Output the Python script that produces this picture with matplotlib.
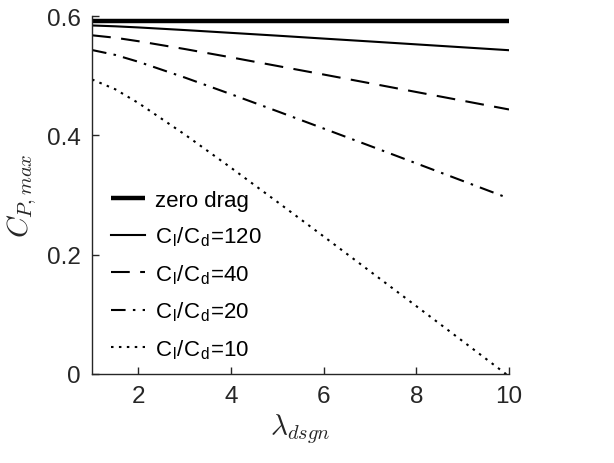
import matplotlib
matplotlib.use("Agg")
import matplotlib.pyplot as plt

# Design tip-speed ratio
tsr = [1, 1.5, 2, 3, 4, 5, 6, 7, 8, 9, 10]

# Maximum power coefficient for each lift-to-drag ratio
cp_zero_drag = [0.5926] * 11
cp_ld120 = [0.5844, 0.5830, 0.5811, 0.5767, 0.5720, 0.5673, 0.5624, 0.5576, 0.5527, 0.5478, 0.5429]
cp_ld40 = [0.5679, 0.5638, 0.5580, 0.5449, 0.5309, 0.5165, 0.5021, 0.4875, 0.4728, 0.4582, 0.4435]
cp_ld20 = [0.5432, 0.5350, 0.5235, 0.4971, 0.4691, 0.4405, 0.4115, 0.3824, 0.3531, 0.3237, 0.2943]
cp_ld10 = [0.4938, 0.4774, 0.4543, 0.4016, 0.3457, 0.2884, 0.2305, 0.1721, 0.1136, 0.0549, -0.0040]

labels = ["zero drag",
          r"C$_\mathregular{l}$/C$_\mathregular{d}$=120",
          r"C$_\mathregular{l}$/C$_\mathregular{d}$=40",
          r"C$_\mathregular{l}$/C$_\mathregular{d}$=20",
          r"C$_\mathregular{l}$/C$_\mathregular{d}$=10"]

xticks = [2, 4, 6, 8, 10]
yticks = [0, 0.2, 0.4, 0.6]

plt.rcParams["font.family"] = ["Liberation Sans", "DejaVu Sans"]
plt.rcParams["mathtext.fontset"] = "cm"

txt = "#262626"
fig = plt.figure(figsize=(6.14, 4.64), dpi=100)
ax = fig.add_axes([0.150, 0.192, 0.679, 0.771])

ax.plot(tsr, cp_zero_drag, color="black", lw=3.2, solid_capstyle="butt", label=labels[0])
ax.plot(tsr, cp_ld120, color="black", lw=1.5, label=labels[1])
ax.plot(tsr, cp_ld40, color="black", lw=1.5, dashes=(9, 5), label=labels[2])
ax.plot(tsr, cp_ld20, color="black", lw=1.5, dashes=(7, 3.5, 1.2, 3.5), label=labels[3])
ax.plot(tsr, cp_ld10, color="black", lw=1.5, dashes=(1.2, 2.6), label=labels[4])

ax.set_xlim(1, 10)
ax.set_ylim(0, 0.6)
ax.set_xticks(xticks)
ax.set_xticklabels([str(t) for t in xticks])
ax.set_yticks(yticks)
ax.set_yticklabels(["0", "0.2", "0.4", "0.6"])

for side in ("top", "right"):
    ax.spines[side].set_visible(False)
for side in ("left", "bottom"):
    ax.spines[side].set_linewidth(1.0)
    ax.spines[side].set_color(txt)
ax.tick_params(direction="in", length=5, width=1.0, colors=txt, labelsize=17.5, pad=8)

ax.set_xlabel(r"$\lambda_{dsgn}$", fontsize=21, color=txt, labelpad=3)
ax.set_ylabel(r"$C_{P,max}$", fontsize=21, color=txt, labelpad=6)

leg = ax.legend(loc="lower left", bbox_to_anchor=(0.025, 0.012), frameon=False,
                fontsize=16, handlelength=1.5, handletextpad=0.45,
                labelspacing=0.62, borderaxespad=0.0)
for t in leg.get_texts():
    t.set_color("black")

fig.savefig("out.png", dpi=100)
